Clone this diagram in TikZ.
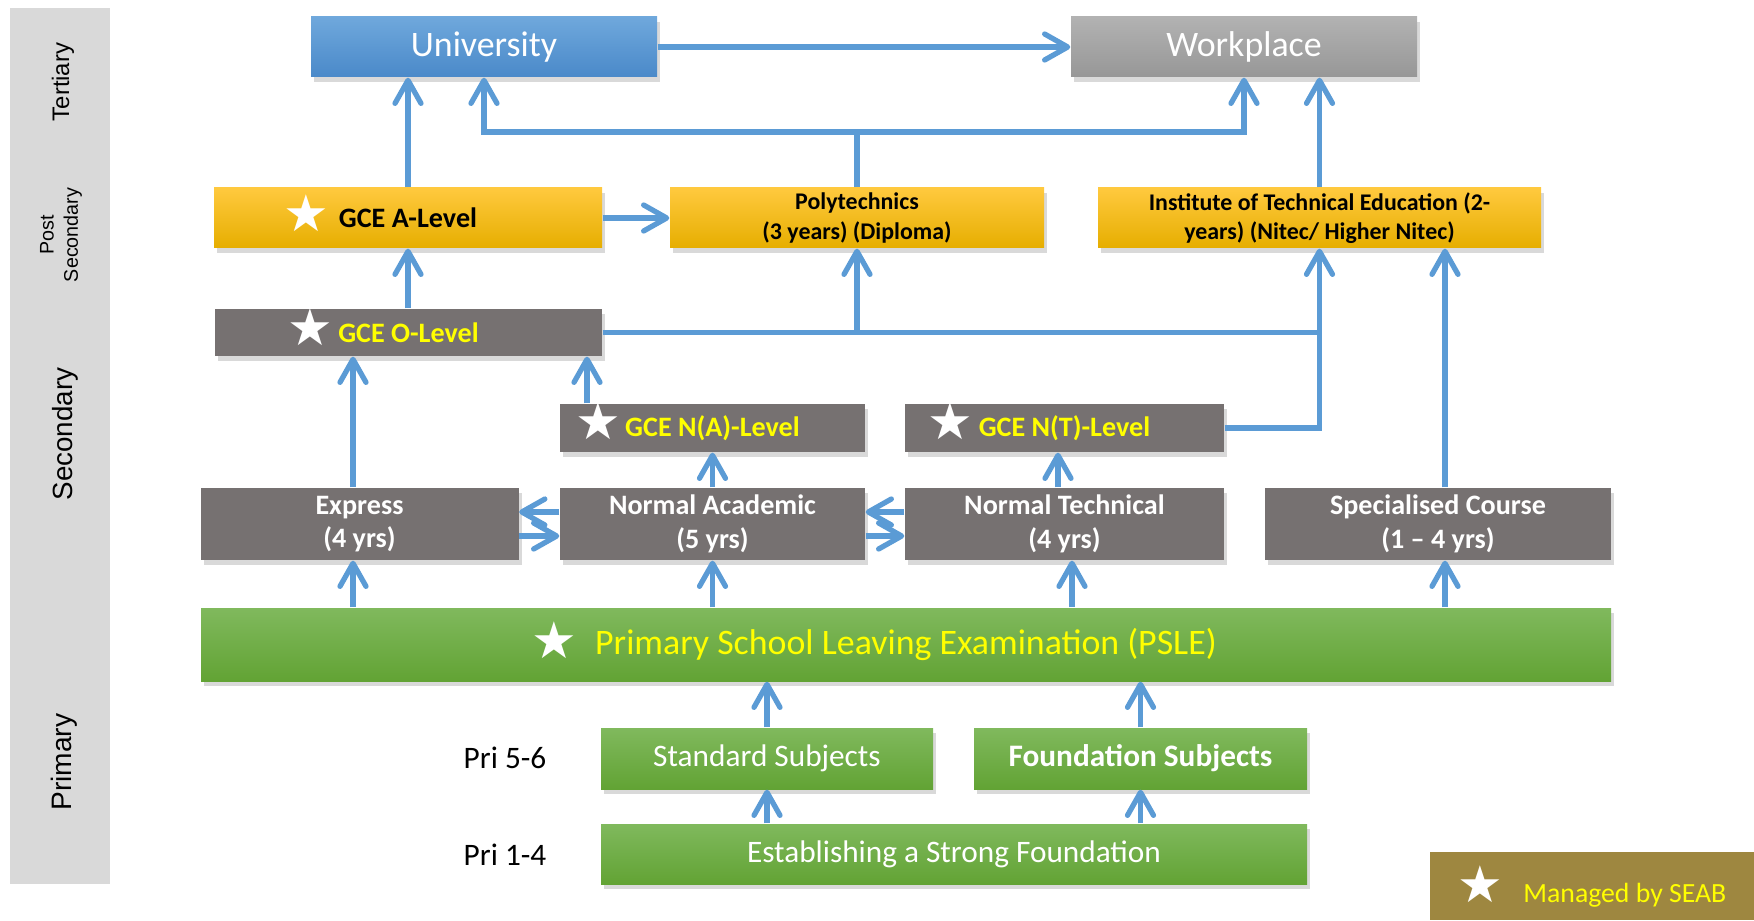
\documentclass[tikz,border=0pt]{standalone}
\usepackage{fontspec}
\setmainfont{Carlito}
\newfontfamily\arialfont{Liberation Sans}
\newfontfamily\symfont{DejaVu Sans}
\usepackage{tikz}
\usetikzlibrary{arrows.meta,shadows,calc}
\definecolor{pfb}{HTML}{5B9BD5}
\definecolor{unih}{HTML}{6FA8DC}
\definecolor{unid}{HTML}{4A89C9}
\definecolor{grauh}{HTML}{B2B2B2}
\definecolor{graud}{HTML}{979797}
\definecolor{goldh}{HTML}{FFC93E}
\definecolor{goldm}{HTML}{FFC000}
\definecolor{goldd}{HTML}{E6AE00}
\definecolor{dunkel}{HTML}{767171}
\definecolor{gruenh}{HTML}{80B95D}
\definecolor{gruend}{HTML}{62A334}
\definecolor{oliv}{HTML}{9E8740}
\definecolor{band}{HTML}{D9D9D9}
\definecolor{gelb}{HTML}{FFFF00}
\newcommand\sizeL{\fontsize{10.2}{12}\selectfont}
\newcommand\sizeM{\fontsize{8}{9.6}\selectfont}
\newcommand\sizeS{\fontsize{6.8}{8.3}\selectfont}
\newcommand\sizeP{\fontsize{8.9}{10.5}\selectfont}
\newcommand\stern{{\fontsize{14.5}{14.5}\selectfont\symfont\color{white}★}}
\newcommand\vorstern[1]{\makebox[0pt][r]{\smash{\raisebox{-0.35mm}{\stern}}\hspace{#1}}}
\tikzset{
  kasten/.style={inner sep=0pt,align=center,
    drop shadow={shadow xshift=0.3mm,shadow yshift=-0.5mm,opacity=0.3}},
  blau/.style={kasten,top color=unih,bottom color=unid,text=white,font=\sizeL},
  grau/.style={kasten,top color=grauh,bottom color=graud,text=white,font=\sizeL},
  gold/.style={kasten,top color=goldh,middle color=goldm,bottom color=goldd,text=black,font=\bfseries\sizeM},
  dunkel/.style={kasten,fill=dunkel,text=white,font=\bfseries\sizeM},
  gruen/.style={kasten,top color=gruenh,bottom color=gruend,text=white,font=\sizeP},
  stufe/.style={rotate=90,align=center,text=black},
  pf/.style={-{Straight Barb[length=2.3mm,width=2.6mm,round]},pfb,line width=1.5pt},
  ln/.style={pfb,line width=1.5pt},
}
\begin{document}
\begin{tikzpicture}
  \useasboundingbox (0,0) rectangle (17.54,9.2);
  % stages
  \fill[band] (0.10,0.36) rectangle (1.10,9.12);
  \node[stufe,font=\arialfont\fontsize{6.8}{8}\selectfont] (ter) at (0.63,8.38) {Tertiary};
  \node[stufe,font=\arialfont\fontsize{5.6}{6.9}\selectfont] (post) at (0.61,6.85) {Post\\Secondary};
  \node[stufe,font=\arialfont\fontsize{7.9}{9}\selectfont] (sek) at (0.65,4.86) {Secondary};
  \node[stufe,font=\arialfont\fontsize{8}{9}\selectfont] (pri) at (0.64,1.58) {Primary};
  % tertiary
  \node[blau,minimum width=3.46cm,minimum height=6mm] (uni) at (4.84,8.73) {University};
  \node[grau,minimum width=3.46cm,minimum height=6mm] (work) at (12.44,8.73) {Workplace};
  % post secondary
  \node[gold,minimum width=3.88cm,minimum height=6mm] (alev) at (4.08,7.02)
    {\vorstern{1mm}GCE A-Level};
  \node[gold,font=\bfseries\sizeS,minimum width=3.74cm,minimum height=6mm] (poly) at (8.57,7.02)
    {Polytechnics\\(3 years) (Diploma)};
  \node[gold,font=\bfseries\sizeS,minimum width=4.43cm,minimum height=6mm] (ite) at (13.195,7.02)
    {Institute of Technical Education (2-\\years) (Nitec/ Higher Nitec)};
  % secondary
  \node[dunkel,text=gelb,minimum width=3.87cm,minimum height=4.7mm] (olev) at (4.085,5.875)
    {\vorstern{0.5mm}GCE O-Level};
  \node[dunkel,text=gelb,minimum width=3.05cm,minimum height=4.8mm] (nalev) at (7.125,4.92)
    {\vorstern{0.4mm}GCE N(A)-Level};
  \node[dunkel,text=gelb,minimum width=3.19cm,minimum height=4.8mm] (ntlev) at (10.645,4.92)
    {\vorstern{0.6mm}GCE N(T)-Level};
  \node[dunkel,minimum width=3.18cm,minimum height=7.2mm] (expr) at (3.595,3.96) {Express\\(4 yrs)};
  \node[dunkel,minimum width=3.05cm,minimum height=7.2mm] (nacad) at (7.125,3.96) {Normal Academic\\(5 yrs)};
  \node[dunkel,minimum width=3.19cm,minimum height=7.2mm] (ntech) at (10.645,3.96) {Normal Technical\\(4 yrs)};
  \node[dunkel,minimum width=3.46cm,minimum height=7.2mm] (spec) at (14.38,3.96) {Specialised Course\\(1 -- 4 yrs)};
  % primary
  \node[gruen,text=gelb,font=\sizeL,minimum width=14.10cm,minimum height=7.3mm] (psle) at (9.06,2.755)
    {\vorstern{1.8mm}Primary School Leaving Examination (PSLE)};
  \node[gruen,minimum width=3.32cm,minimum height=6.1mm] (std) at (7.67,1.615) {Standard Subjects};
  \node[gruen,font=\bfseries\sizeP,minimum width=3.33cm,minimum height=6.1mm] (fnd) at (11.405,1.615) {Foundation Subjects};
  \node[gruen,minimum width=7.06cm,minimum height=6mm] (est) at (9.54,0.66) {Establishing a Strong Foundation};
  \node[font=\sizeP] (p56) at (5.05,1.62) {Pri 5-6};
  \node[font=\sizeP] (p14) at (5.05,0.65) {Pri 1-4};
  % legend
  \node[fill=oliv,text=gelb,font=\fontsize{7.9}{9}\selectfont,inner sep=0pt,
    minimum width=3.24cm,minimum height=6.8mm] (seab) at (15.92,0.34) {\stern\hspace{2mm}Managed by SEAB};
  % lanes
  \coordinate (sa) at (3.53,0);
  \coordinate (sd) at (5.87,0);
  \coordinate (sg) at (10.58,0);
  \coordinate (sh) at (10.72,0);
  \coordinate (sj) at (14.45,0);
  \coordinate (knick) at (8.57,7.88);
  % paths
  \draw[pf] (uni) -- (work);
  \draw[pf] (alev) -- (poly);
  \draw[pf] (alev.north) -- (uni.south -| alev.north);
  \draw[pf] (poly.north) -- (knick) -| (uni.south);
  \draw[pf] (knick) -| (work.south);
  \draw[pf] (ite.north) -- (work.south -| ite.north);
  \draw[pf] (olev.north -| alev) -- (alev.south);
  \draw[ln] (olev.east) -- (olev.east -| ite.south);
  \draw[pf] (olev.east -| poly.south) -- (poly.south);
  \draw[pf] (ntlev.east) -| (ite.south);
  \draw[pf] (spec.north -| sj) -- (ite.south -| sj);
  \draw[pf] (expr.north -| sa) -- (olev.south -| sa);
  \draw[pf] (nalev.north -| sd) -- (olev.south -| sd);
  \draw[pf] (nacad) -- (nalev);
  \draw[pf] (ntech.north -| sg) -- (ntlev.south -| sg);
  \foreach \l/\r in {expr/nacad,nacad/ntech}{
    \draw[pf] ([yshift=1.2mm]\r.west) -- ([yshift=1.2mm]\l.east);
    \draw[pf] ([yshift=-1.2mm]\l.east) -- ([yshift=-1.2mm]\r.west);
  }
  \foreach \s/\z in {sa/expr,nacad/nacad,sh/ntech,sj/spec}
    \draw[pf] (psle.north -| \s) -- (\z.south -| \s);
  \foreach \z in {std,fnd}{
    \draw[pf] (est.north -| \z) -- (\z.south);
    \draw[pf] (\z.north) -- (psle.south -| \z);
  }
\end{tikzpicture}
\end{document}
